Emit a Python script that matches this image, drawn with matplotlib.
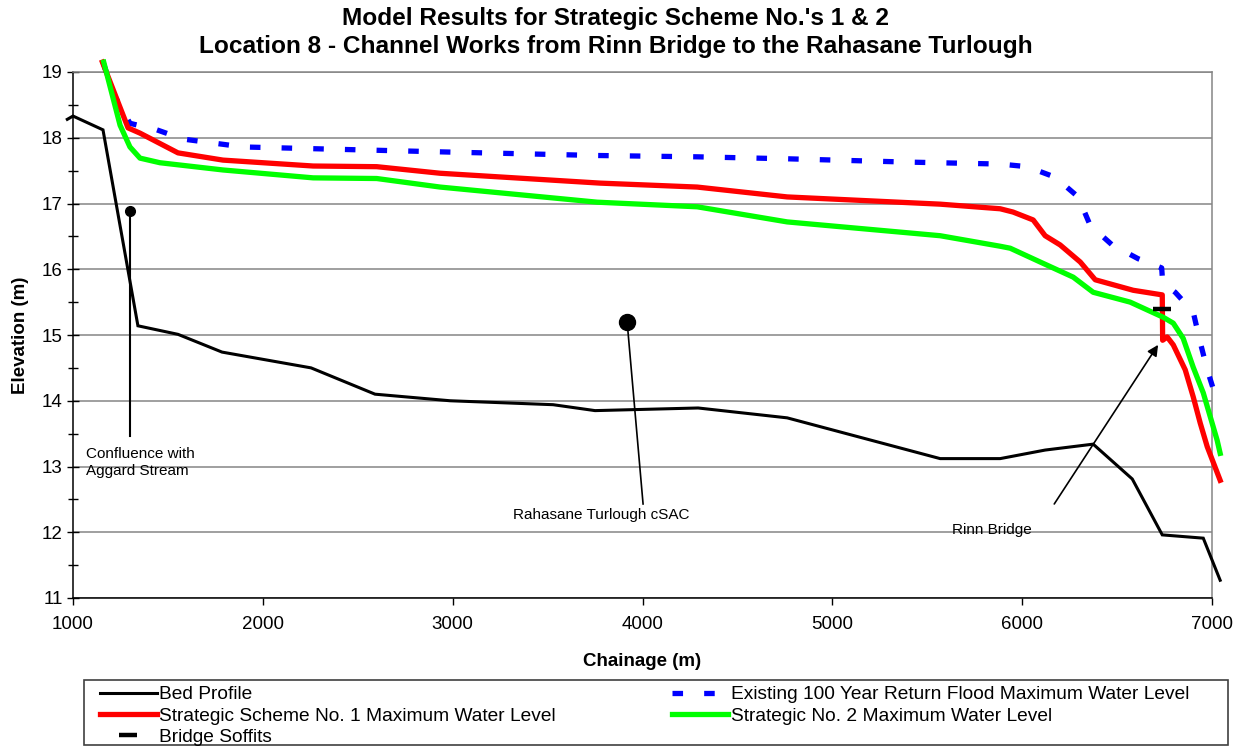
import matplotlib
matplotlib.use("Agg")
import matplotlib.pyplot as plt
from matplotlib.patches import Rectangle

plt.rcParams['font.family'] = ['Liberation Sans', 'DejaVu Sans']

# Bed profile along the channel
bed_chainage = [970, 1000, 1158, 1342, 1553, 1785, 2254, 2591, 2986, 3529, 3750,
                4293, 4762, 5568, 5884, 6121, 6374, 6580, 6738, 6954, 7043]
bed_level = [18.28, 18.33, 18.12, 15.14, 15.01, 14.74, 14.50, 14.10, 14.00, 13.94, 13.85,
             13.89, 13.74, 13.12, 13.12, 13.25, 13.34, 12.81, 11.96, 11.91, 11.27]

# Existing 100 year return flood maximum water level
existing_chainage = [1158, 1211, 1300, 1442, 1580, 1896, 3013, 3761, 4288, 4762, 5394,
                     5884, 6026, 6174, 6295, 6358, 6474, 6611, 6735, 6740, 6806, 6901,
                     6938, 6975, 7033]
existing_level = [19.15, 18.68, 18.22, 18.12, 17.98, 17.86, 17.78, 17.73, 17.71, 17.68, 17.63,
                  17.60, 17.56, 17.40, 17.10, 16.67, 16.37, 16.16, 16.02, 15.80, 15.65, 15.35,
                  14.89, 14.47, 13.94]

# Strategic Scheme No. 1 maximum water level
scheme1_chainage = [1155, 1290, 1353, 1553, 1790, 2265, 2600, 2934, 3777, 4288, 4762,
                    5568, 5884, 5952, 6058, 6121, 6200, 6306, 6385, 6585, 6738, 6740,
                    6764, 6796, 6859, 6901, 6938, 6975, 7043]
scheme1_level = [19.15, 18.15, 18.07, 17.77, 17.66, 17.57, 17.56, 17.46, 17.31, 17.25, 17.10,
                 16.99, 16.92, 16.87, 16.75, 16.51, 16.37, 16.11, 15.84, 15.68, 15.61, 14.92,
                 14.97, 14.85, 14.47, 14.06, 13.66, 13.30, 12.79]

# Strategic No. 2 maximum water level
scheme2_chainage = [1162, 1248, 1300, 1353, 1458, 1790, 2265, 2600, 2934, 3761, 4288,
                    4762, 5568, 5884, 5937, 6095, 6269, 6374, 6569, 6743, 6796, 6848,
                    6901, 6954, 7027, 7043]
scheme2_level = [19.15, 18.19, 17.86, 17.69, 17.62, 17.51, 17.39, 17.38, 17.25, 17.02, 16.95,
                 16.72, 16.51, 16.35, 16.32, 16.11, 15.88, 15.65, 15.50, 15.27, 15.18, 14.95,
                 14.51, 14.12, 13.40, 13.20]

# Bridge soffit levels
soffit_chainage = [6738]
soffit_level = [15.40]

x_ticks = [1000, 2000, 3000, 4000, 5000, 6000, 7000]
y_ticks = [11, 12, 13, 14, 15, 16, 17, 18, 19]

W, H = 1241, 748
fig = plt.figure(figsize=(W / 100, H / 100), dpi=100)
ax = fig.add_axes([73 / W, 1 - 598 / H, (1212 - 73) / W, (598 - 72) / H])

ax.set_xlim(1000, 7000)
ax.set_ylim(11, 19)
ax.set_xticks(x_ticks)
ax.set_yticks(y_ticks)
ax.set_yticks([v + 0.5 for v in y_ticks[:-1]], minor=True)
ax.yaxis.grid(True, which='major', color='#858585', linewidth=1.1)
ax.set_axisbelow(True)

for side in ('top', 'right'):
    ax.spines[side].set_color('#858585')
    ax.spines[side].set_linewidth(1.1)
for side in ('left', 'bottom'):
    ax.spines[side].set_color('black')
    ax.spines[side].set_linewidth(1.1)

ax.tick_params(axis='y', which='major', direction='inout', length=9, width=1, labelsize=13.5, pad=3)
ax.tick_params(axis='y', which='minor', direction='inout', length=7, width=1)
ax.tick_params(axis='x', which='major', direction='out', length=5, width=1, labelsize=13.5, pad=8)

ax.set_xlabel('Chainage (m)', fontsize=13.5, fontweight='bold', labelpad=14)
ax.set_ylabel('Elevation (m)', fontsize=13.5, fontweight='bold', labelpad=9)

bed_line, = ax.plot(bed_chainage, bed_level, color='black', lw=2.2, clip_on=False, zorder=5,
                    solid_joinstyle='miter')
existing_line, = ax.plot(existing_chainage, existing_level, color='#0000FF', lw=3.8,
                         linestyle=(0, (2.0, 4.0)), dash_capstyle='butt', clip_on=False, zorder=3)
scheme1_line, = ax.plot(scheme1_chainage, scheme1_level, color='#FF0000', lw=3.8,
                        clip_on=False, zorder=4)
scheme2_line, = ax.plot(scheme2_chainage, scheme2_level, color='#00FF00', lw=3.8,
                        clip_on=False, zorder=4)
soffit_line, = ax.plot(soffit_chainage, soffit_level, linestyle='none', marker='_',
                       markersize=13, markeredgewidth=3.2, color='black', zorder=6)

# Annotations
ax.plot([1300, 1300], [16.89, 13.46], color='black', lw=1.5, zorder=6)
ax.plot([1300], [16.89], 'o', color='black', markersize=7, zorder=6)
ax.text(1068, 13.06, 'Confluence with\nAggard Stream', fontsize=11, ha='left', va='center',
        linespacing=1.3, zorder=7)

ax.plot([3919, 4003], [15.20, 12.43], color='black', lw=1.2, zorder=6)
ax.plot([3919], [15.20], 'o', color='black', markersize=11.5, zorder=6)
ax.text(3782, 12.26, 'Rahasane Turlough cSAC', fontsize=11, ha='center', va='center', zorder=7)

ax.annotate('', xy=(6716, 14.85), xytext=(6169, 12.43),
            arrowprops=dict(arrowstyle='-|>', color='black', lw=1.2,
                            mutation_scale=16, shrinkA=0, shrinkB=0), zorder=7)
ax.text(5842, 12.03, 'Rinn Bridge', fontsize=11, ha='center', va='center', zorder=7)

# Title
fig.text(616 / W, 1 - 18 / H, "Model Results for Strategic Scheme No.'s 1 & 2",
         fontsize=17.6, fontweight='bold', ha='center', va='center')
fig.text(616 / W, 1 - 47 / H, "Location 8 - Channel Works from Rinn Bridge to the Rahasane Turlough",
         fontsize=17.6, fontweight='bold', ha='center', va='center')

# Legend with its own frame
fig.patches.append(Rectangle((84 / W, 1 - 745 / H), (1228 - 84) / W, (745 - 680) / H,
                             transform=fig.transFigure, facecolor='white',
                             edgecolor='#404040', linewidth=1.2))
handles = [bed_line, scheme1_line, soffit_line, existing_line, scheme2_line]
labels = ['Bed Profile', 'Strategic Scheme No. 1 Maximum Water Level', 'Bridge Soffits',
          'Existing 100 Year Return Flood Maximum Water Level', 'Strategic No. 2 Maximum Water Level']
fig.legend(handles, labels, loc='upper left', bbox_to_anchor=(100 / W, 1 - 686 / H),
           ncol=2, frameon=False, fontsize=13.8, handlelength=2.95, handletextpad=0.12,
           labelspacing=0.2, columnspacing=6.07, borderpad=0, borderaxespad=0)

fig.savefig('out.png', dpi=100)
